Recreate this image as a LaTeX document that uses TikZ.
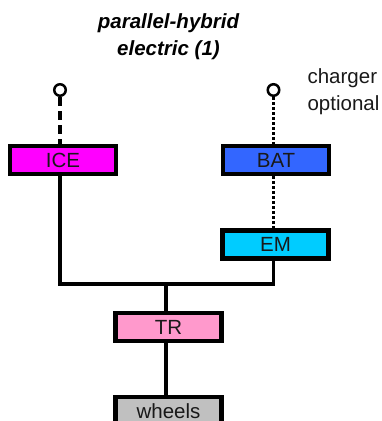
\documentclass[tikz,border=0pt]{standalone}
\usepackage{fontspec}
\setmainfont{Liberation Sans}
\begin{document}
\begin{tikzpicture}[x=1pt,y=-1pt,
  unit/.style={draw=black, line width=4.5pt, minimum width=106pt, minimum height=28pt, inner sep=0pt, font=\fontsize{20.5}{22}\selectfont, text=black!90},
  link/.style={line width=3.5pt, draw=black},
  term/.style={circle, draw=black, line width=2.5pt, fill=white, minimum size=11.5pt, inner sep=0pt},
  lbl/.style={font=\fontsize{20.5}{26.5}\selectfont, text=black!90, align=left}]
\useasboundingbox (0,0) rectangle (381,421);
\clip (0,0) rectangle (381,421);
\definecolor{ice}{HTML}{FF00FF}
\definecolor{bat}{HTML}{3366FF}
\definecolor{em}{HTML}{00CCFF}
\definecolor{tr}{HTML}{FF99CC}
\definecolor{wh}{HTML}{C0C0C0}
\node[font=\fontsize{20.5}{27}\selectfont\bfseries\itshape, align=center] (title) at (168.5,37) {parallel-hybrid\\electric (1)};
\node[unit, fill=ice] (ice) at (63,160) {ICE};
\node[unit, fill=bat] (bat) at (276,160) {BAT};
\node[unit, fill=em] (em) at (275.5,244.5) {EM};
\node[unit, fill=tr] (tr) at (168.5,327) {TR};
\node[unit, fill=wh] (wh) at (168.5,411) {wheels};
\node[lbl] (chg) at (343.5,91.5) {charger\\optional};
\node[term] (c1) at (60,90) {};
\node[term] (c2) at (273.5,90) {};
\coordinate (j1) at (60,284);
\coordinate (j2) at (273.5,284);
\coordinate (j3) at (166,284);
\draw[link, dash pattern=on 9pt off 5pt] (c1.south) -- (c1.south |- ice.north);
\draw[link, line width=3pt, dash pattern=on 2.5pt off 2.5pt] (c2.south) -- (c2.south |- bat.north);
\draw[link, line width=3pt, dash pattern=on 2.5pt off 2.5pt] (c2 |- bat.south) -- (c2 |- em.north);
\draw[link] (c1 |- ice.south) -- (j1) -- (j2) -- (c2 |- em.south);
\draw[link] (j3) -- (j3 |- tr.north);
\draw[link] (j3 |- tr.south) -- (j3 |- wh.north);
\end{tikzpicture}
\end{document}
